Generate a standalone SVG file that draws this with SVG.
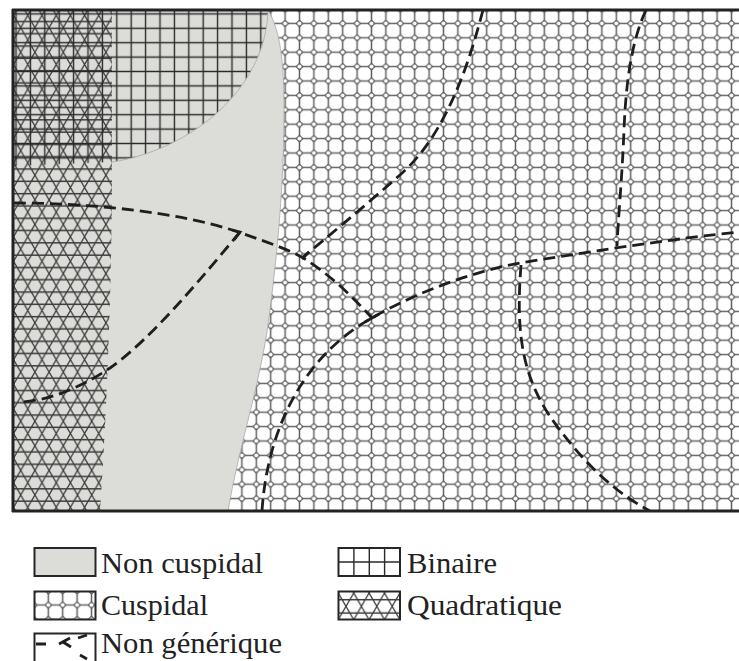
<svg xmlns="http://www.w3.org/2000/svg" width="739" height="661" viewBox="0 0 739 661">
<style>
.gray{fill:#dcdcd9}
.edge{fill:none;stroke:#a8a8a6;stroke-width:0.8}
.dash{fill:none;stroke:#1e1e1e;stroke-width:2.8;stroke-dasharray:12 6}
.tick{fill:none;stroke:#1e1e1e;stroke-width:2.8}
.frame{fill:none;stroke:#222;stroke-width:3}
.box{stroke:#262626;stroke-width:2}
.lbl{font-family:"Liberation Serif","DejaVu Serif",serif;font-size:30px;fill:#222}
</style>
<defs>
<pattern id="cusp" patternUnits="userSpaceOnUse" x="4.3" y="1.8" width="14.4" height="14.4">
<path d="M7.2,-1V15.4M-1,7.2H15.4" stroke="#626262" stroke-width="1.5"/>
<polygon points="7.2,3 11.4,7.2 7.2,11.4 3,7.2" fill="#626262"/>
<circle cx="7.2" cy="7.2" r="2" fill="#fff"/>
</pattern>
<pattern id="cuspL" patternUnits="userSpaceOnUse" x="41.1" y="597.8" width="14.4" height="14.4">
<path d="M7.2,-1V15.4M-1,7.2H15.4" stroke="#626262" stroke-width="1.5"/>
<polygon points="7.2,3 11.4,7.2 7.2,11.4 3,7.2" fill="#626262"/>
<circle cx="7.2" cy="7.2" r="2" fill="#fff"/>
</pattern>
<pattern id="bin" patternUnits="userSpaceOnUse" x="8.8" y="6.7" width="14.4" height="14.4">
<path d="M7.2,-1V15.4M-1,7.2H15.4" stroke="#2a2a2a" stroke-width="1.4"/>
</pattern>
<pattern id="quad" patternUnits="userSpaceOnUse" x="6.5" y="3" width="14.2" height="24.6">
<rect x="0" y="0" width="14.2" height="24.6" fill="#dcdcd9"/>
<path d="M-1,6.15H15.2M-1,18.45H15.2M7.1,-12.3L-21.3,36.9M21.3,-12.3L-7.1,36.9M35.5,-12.3L7.1,36.9M-21.3,-12.3L7.1,36.9M-7.1,-12.3L21.3,36.9M7.1,-12.3L35.5,36.9" stroke="#3a3a3a" stroke-width="1.3"/>
</pattern>
<pattern id="quadL" patternUnits="userSpaceOnUse" x="338.3" y="593" width="15.4" height="26.7">
<rect x="0" y="0" width="15.4" height="26.7" fill="#fff"/>
<path d="M-1,6.67H16.4M-1,20H16.4M7.7,-13.35L-23.1,40M23.1,-13.35L-7.7,40M38.5,-13.35L7.7,40M-23.1,-13.35L7.7,40M-7.7,-13.35L23.1,40M7.7,-13.35L38.5,40" stroke="#3a3a3a" stroke-width="1.3"/>
</pattern>
</defs>

<rect x="0" y="0" width="739" height="661" fill="#fff"/>

<g id="cuspidal-region">
<rect x="14" y="10" width="725" height="501" fill="url(#cusp)"/>
</g>

<g id="non-cuspidal-region">
<path class="gray" d="M14,10H268C280,30 284,60 284,110C284,170 280,230 270,310C262,380 240,440 228,511H14Z"/>
<path class="edge" d="M268,10C280,30 284,60 284,110C284,170 280,230 270,310C262,380 240,440 228,511"/>
</g>

<g id="quadratique-region">
<path d="M14,10H112V200C110,350 104,450 100,511H14Z" fill="url(#quad)"/>
</g>

<g id="binaire-region">
<path d="M14,10H268C266,90 190,150 112,162L14,166Z" fill="url(#bin)"/>
<path class="edge" d="M268,10C266,90 190,150 112,162"/>
</g>

<g id="connectors">
<path class="dash" d="M14,203C90,203 180,212 238,232C270,243 290,250 305,259C330,275 352,296 372,318"/>
<path class="dash" d="M240,232C200,280 150,340 110,368C80,388 50,400 22,402"/>
<path class="dash" d="M483,10C465,80 440,140 400,175C360,210 330,235 303,257"/>
<path class="dash" d="M262,511C268,420 310,352 372,318C420,290 480,270 520,263C600,250 680,238 739,232"/>
<path class="dash" d="M521,265C516,330 520,380 560,430C590,470 620,495 650,511"/>
<path class="dash" d="M646,10C632,40 626,80 624,130C622,180 618,220 617,246"/>
<path class="tick" d="M232,230L240,232L234,240"/>
<path class="tick" d="M309,252L302,259"/>
<path class="tick" d="M365,322L379,314"/>
</g>

<g id="frame">
<path class="frame" d="M12,10H739M13,9V512M12,511H739"/>
</g>

<g id="legend-non-cuspidal">
<rect class="box gray" x="34.5" y="548" width="61" height="28"/>
<text class="lbl" x="101" y="573" textLength="162" lengthAdjust="spacingAndGlyphs">Non cuspidal</text>
</g>
<g id="legend-cuspidal">
<rect class="box" x="34.5" y="591.5" width="61" height="28" fill="url(#cuspL)"/>
<text class="lbl" x="101" y="615" textLength="107" lengthAdjust="spacingAndGlyphs">Cuspidal</text>
</g>
<g id="legend-non-generique">
<rect class="box" x="34.5" y="633.5" width="61" height="30" fill="#fff"/>
<path class="tick" stroke-width="2" d="M36,644L46,644M59,644L70,638M63,642L71,647M78,638L87,635M80,655L87,659"/>
<text class="lbl" x="101" y="653" textLength="181" lengthAdjust="spacingAndGlyphs">Non générique</text>
</g>
<g id="legend-binaire">
<rect class="box" x="338.5" y="548" width="61.5" height="28" fill="#fff"/>
<path d="M353.9,548V576M369.3,548V576M384.6,548V576M338.5,562H400" stroke="#2a2a2a" stroke-width="1.4"/>
<text class="lbl" x="407" y="573" textLength="90" lengthAdjust="spacingAndGlyphs">Binaire</text>
</g>
<g id="legend-quadratique">
<rect class="box" x="338.5" y="591.5" width="61.5" height="28" fill="url(#quadL)"/>
<text class="lbl" x="407" y="615" textLength="155" lengthAdjust="spacingAndGlyphs">Quadratique</text>
</g>
</svg>
